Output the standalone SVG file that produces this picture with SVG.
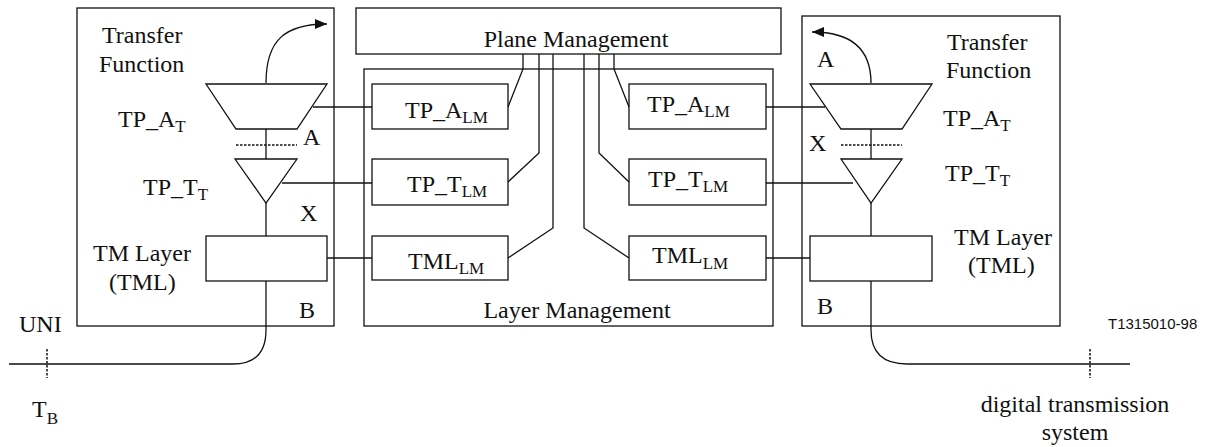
<svg xmlns="http://www.w3.org/2000/svg" width="1206" height="447" viewBox="0 0 1206 447">
<style>
  .ln{fill:none;stroke:#111;stroke-width:1.3}
  .bx{fill:#fff;stroke:#111;stroke-width:1.3}
  .dot{fill:none;stroke:#111;stroke-width:1.5;stroke-dasharray:2.5,1.5}
  text{font-family:"Liberation Serif","Times New Roman",serif;font-size:24px;fill:#111}
  .sub{font-size:17px}
  .sans{font-family:"Liberation Sans",Arial,sans-serif;font-size:15px}
</style>
<defs>
  <marker id="ah" viewBox="0 0 12 10" markerWidth="12" markerHeight="10" refX="12" refY="5" markerUnits="userSpaceOnUse" orient="auto">
    <path d="M0,0 L12,5 L0,10 z" fill="#111"/>
  </marker>
</defs>

<g id="left-transfer-function">
  <rect class="bx" x="77" y="8" width="257" height="318"/>
  <text x="102" y="43">Transfer</text>
  <text x="99" y="72">Function</text>
  <text x="118" y="127">TP_A<tspan class="sub" dy="5">T</tspan></text>
  <text x="143" y="195">TP_T<tspan class="sub" dy="5">T</tspan></text>
  <text x="93" y="261">TM Layer</text>
  <text x="109" y="290">(TML)</text>
  <text x="303" y="145">A</text>
  <text x="300" y="221">X</text>
  <text x="299" y="318">B</text>
</g>
<g id="left-tpa">
  <polygon class="bx" points="206,84 327,84 297,129 236,129"/>
</g>
<g id="left-tpt">
  <polygon class="bx" points="235,159 297,159 266,203"/>
</g>
<g id="left-tml">
  <rect class="bx" x="206" y="236" width="121" height="45"/>
</g>

<g id="plane-management">
  <rect class="bx" x="356" y="8" width="425" height="46"/>
  <text x="576" y="47" text-anchor="middle">Plane Management</text>
</g>
<g id="layer-management">
  <rect class="bx" x="364" y="69" width="409" height="257"/>
  <text x="577" y="318" text-anchor="middle">Layer Management</text>
</g>
<g id="tpa-lm-left">
  <rect class="bx" x="372" y="84" width="136" height="45"/>
  <text x="405" y="118">TP_A<tspan class="sub" dy="5">LM</tspan></text>
</g>
<g id="tpt-lm-left">
  <rect class="bx" x="372" y="159" width="136" height="46"/>
  <text x="407" y="192">TP_T<tspan class="sub" dy="5">LM</tspan></text>
</g>
<g id="tml-lm-left">
  <rect class="bx" x="372" y="236" width="136" height="44"/>
  <text x="408" y="269">TML<tspan class="sub" dy="5">LM</tspan></text>
</g>
<g id="tpa-lm-right">
  <rect class="bx" x="629" y="84" width="137" height="45"/>
  <text x="647" y="112">TP_A<tspan class="sub" dy="5">LM</tspan></text>
</g>
<g id="tpt-lm-right">
  <rect class="bx" x="629" y="159" width="137" height="46"/>
  <text x="648" y="187">TP_T<tspan class="sub" dy="5">LM</tspan></text>
</g>
<g id="tml-lm-right">
  <rect class="bx" x="629" y="236" width="137" height="44"/>
  <text x="652" y="263">TML<tspan class="sub" dy="6">LM</tspan></text>
</g>

<g id="right-transfer-function">
  <rect class="bx" x="802" y="16" width="258" height="310"/>
  <text x="947" y="50">Transfer</text>
  <text x="946" y="78">Function</text>
  <text x="943" y="126">TP_A<tspan class="sub" dy="5">T</tspan></text>
  <text x="945" y="181">TP_T<tspan class="sub" dy="5">T</tspan></text>
  <text x="954" y="245">TM Layer</text>
  <text x="968" y="273">(TML)</text>
  <text x="817" y="67">A</text>
  <text x="809" y="151">X</text>
  <text x="817" y="314">B</text>
</g>
<g id="right-tpa">
  <polygon class="bx" points="810,84 932,84 902,129 841,129"/>
</g>
<g id="right-tpt">
  <polygon class="bx" points="841,159 902,159 871,203"/>
</g>
<g id="right-tml">
  <rect class="bx" x="810" y="236" width="122" height="45"/>
</g>

<g id="connectors">
  <!-- left internal -->
  <path class="ln" d="M266,83 C266,40 285,24 327,24" marker-end="url(#ah)"/>
  <line class="ln" x1="266" y1="129" x2="266" y2="159"/>
  <line class="dot" x1="236" y1="145" x2="297" y2="145"/>
  <line class="ln" x1="266" y1="203" x2="266" y2="236"/>
  <path class="ln" d="M266,281 L266,330 C266,355 252,364 233,364 L9,364"/>
  <line class="dot" x1="47" y1="349" x2="47" y2="378"/>
  <!-- left to layer mgmt -->
  <line class="ln" x1="313" y1="107" x2="372" y2="107"/>
  <line class="ln" x1="282" y1="183" x2="372" y2="183"/>
  <line class="ln" x1="327" y1="258" x2="372" y2="258"/>
  <!-- plane mgmt to LM boxes -->
  <polyline class="ln" points="523,54 523,69 508,107"/>
  <polyline class="ln" points="539,54 539,153 508,182"/>
  <polyline class="ln" points="553,54 553,228 508,258"/>
  <polyline class="ln" points="614,54 614,69 629,107"/>
  <polyline class="ln" points="599,54 599,153 629,182"/>
  <polyline class="ln" points="584,54 584,228 629,258"/>
  <!-- right LM to right box -->
  <line class="ln" x1="766" y1="107" x2="825" y2="107"/>
  <line class="ln" x1="766" y1="183" x2="853" y2="183"/>
  <line class="ln" x1="766" y1="258" x2="810" y2="258"/>
  <!-- right internal -->
  <path class="ln" d="M871,83 C871,50 852,32 812,32" marker-end="url(#ah)"/>
  <line class="ln" x1="871" y1="129" x2="871" y2="159"/>
  <line class="dot" x1="841" y1="145" x2="902" y2="145"/>
  <line class="ln" x1="871" y1="203" x2="871" y2="236"/>
  <path class="ln" d="M871,281 L871,330 C871,355 885,364 907,364 L1130,364"/>
  <line class="dot" x1="1090" y1="349" x2="1090" y2="378"/>
</g>

<g id="labels">
  <text x="19" y="332">UNI</text>
  <text x="32" y="417">T<tspan class="sub" dy="7">B</tspan></text>
  <text x="1075" y="412" text-anchor="middle">digital transmission</text>
  <text x="1075" y="440" text-anchor="middle">system</text>
  <text class="sans" x="1108" y="329">T1315010-98</text>
</g>
</svg>
